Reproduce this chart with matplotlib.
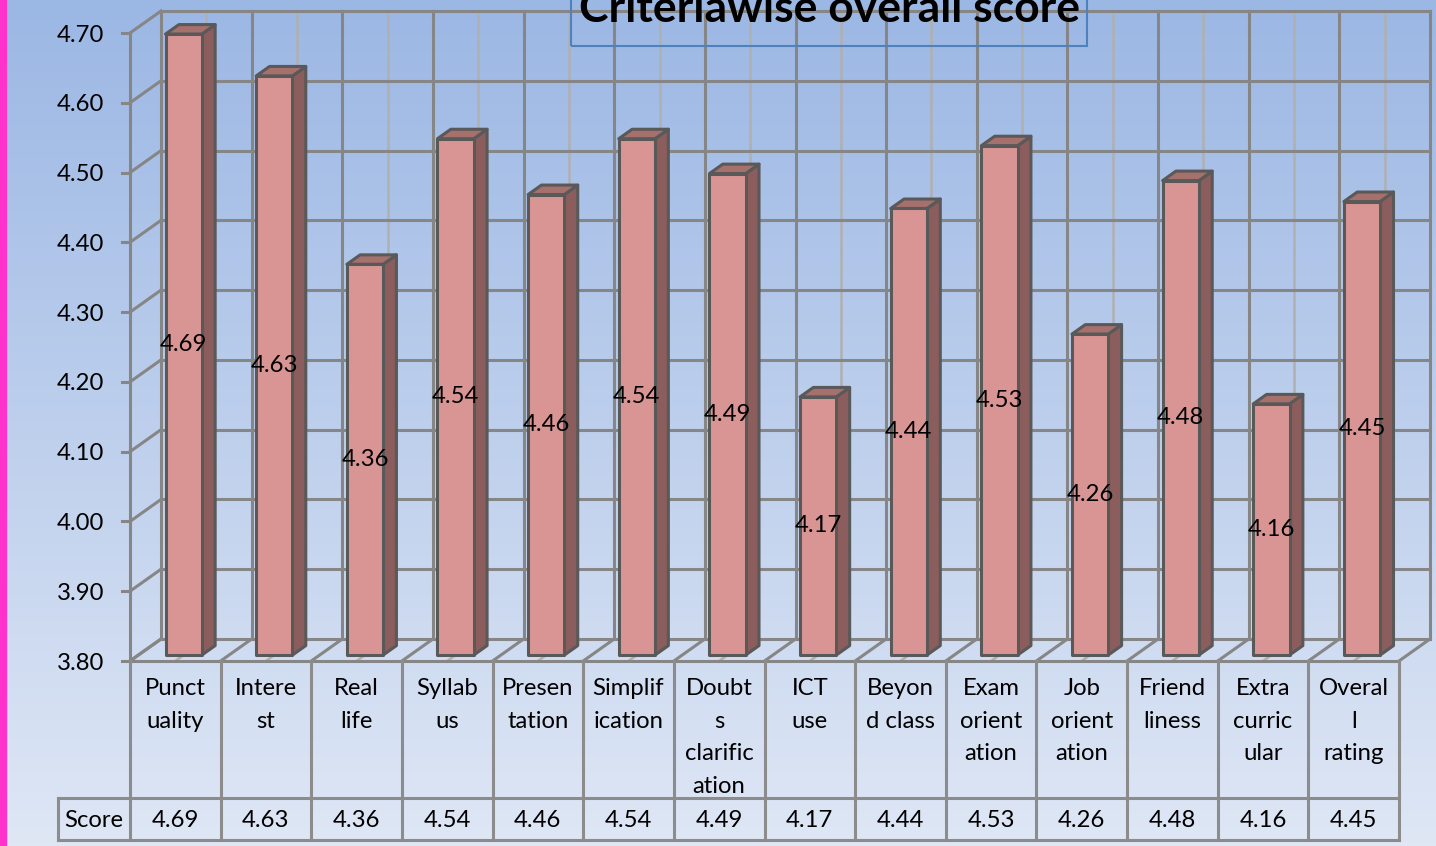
import numpy as np
import matplotlib.pyplot as plt
from matplotlib.patches import Polygon, Rectangle
from matplotlib.transforms import IdentityTransform

plt.rcParams['font.family'] = ['Lato', 'DejaVu Sans']

categories = ['Punct\nuality', 'Intere\nst', 'Real\nlife', 'Syllab\nus', 'Presen\ntation',
              'Simplif\nication', 'Doubt\ns\nclarific\nation', 'ICT\nuse', 'Beyon\nd class',
              'Exam\norient\nation', 'Job\norient\nation', 'Friend\nliness', 'Extra\ncurric\nular',
              'Overal\nl\nrating']
scores = [4.69, 4.63, 4.36, 4.54, 4.46, 4.54, 4.49, 4.17, 4.44, 4.53, 4.26, 4.48, 4.16, 4.45]
yticks = [3.80, 3.90, 4.00, 4.10, 4.20, 4.30, 4.40, 4.50, 4.60, 4.70]
row_name = 'Score'
title = 'Criteriawise overall score'

W, H = 1436, 846
FS = 17.2
fig = plt.figure(figsize=(W / 100, H / 100), dpi=100)

# background gradient
bg = fig.add_axes([0, 0, 1, 1], zorder=-5)
grad = np.linspace(0, 1, 256)[:, None]
top_c = np.array([0x9b, 0xb7, 0xe4]) / 255
bot_c = np.array([0xdf, 0xe7, 0xf5]) / 255
img = top_c[None, None, :] * (1 - grad[..., None]) + bot_c[None, None, :] * grad[..., None]
bg.imshow(np.repeat(img, 2, axis=1), aspect='auto', extent=[0, 1, 0, 1])
bg.add_patch(Rectangle((0, 0), 6 / W, 1, color='#ff33cc', transform=bg.transAxes))
bg.axis('off')

# front plane of the chart
n = len(scores)
ax = fig.add_axes([130 / W, (H - 661) / H, (1399 - 130) / W, (661 - 33) / H])
ax.set_xlim(-0.5, n - 0.5)
ax.set_ylim(yticks[0], yticks[-1])
ax.axis('off')
ax.patch.set_alpha(0)

DX, DY = 31, 22  # depth offset in pixels


def proj(x, y, d=0.0):
    px, py = ax.transData.transform((x, y))
    return (px + DX * d, py + DY * d)


grid_dark = '#868686'
grid_light = '#b0b0b0'
lw = 2.2


def seg(p, q, color=grid_dark, lw=lw, z=1):
    fig.add_artist(plt.Line2D([p[0], q[0]], [p[1], q[1]], color=color, lw=lw,
                              transform=IdentityTransform(), zorder=z))


bounds = np.arange(n + 1) - 0.5
centers = np.arange(n)
y0, y1 = yticks[0], yticks[-1]

# back wall
for c in centers:
    seg(proj(c, y0, 1), proj(c, y1, 1), grid_light, 1.8)
for t in yticks:
    seg(proj(bounds[0], t, 1), proj(bounds[-1], t, 1))
for b in bounds:
    seg(proj(b, y0, 1), proj(b, y1, 1))
# left wall
for t in yticks:
    seg(proj(bounds[0], t, 0), proj(bounds[0], t, 1))
seg(proj(bounds[0], y0, 0), proj(bounds[0], y1, 0))
for t in yticks:
    p = proj(bounds[0], t, 0)
    seg((p[0] - 8, p[1]), p)
# floor
for c in centers:
    seg(proj(c, y0, 0), proj(c, y0, 1), grid_light, 1.8)
for b in bounds:
    seg(proj(b, y0, 0), proj(b, y0, 1))
seg(proj(bounds[0], y0, 0), proj(bounds[-1], y0, 0))

# bars
d0, d1, hw = 0.27, 0.70, 0.2
edge = '#595959'
for c, v in zip(centers, scores):
    front = [proj(c - hw, y0, d0), proj(c + hw, y0, d0), proj(c + hw, v, d0), proj(c - hw, v, d0)]
    side = [proj(c + hw, y0, d0), proj(c + hw, y0, d1), proj(c + hw, v, d1), proj(c + hw, v, d0)]
    topf = [proj(c - hw, v, d0), proj(c + hw, v, d0), proj(c + hw, v, d1), proj(c - hw, v, d1)]
    for pts, col in ((side, '#8b5d5c'), (topf, '#a6706d'), (front, '#d99594')):
        fig.add_artist(Polygon(pts, closed=True, facecolor=col, edgecolor=edge, lw=2.2,
                               joinstyle='round', transform=IdentityTransform(), zorder=3))
    lx, ly = proj(c, (y0 + v) / 2, d0)
    fig.text(lx / W, ly / H, f'{v:.2f}', ha='center', va='center', fontsize=FS, zorder=4)

# y tick labels
for t in yticks:
    px, py = proj(bounds[0], t, 0)
    fig.text((px - 26) / W, (py - 2) / H, f'{t:.2f}', ha='right', va='center', fontsize=FS)

# data table
tcol = '#8c8c8c'
x_left = proj(bounds[0], y0)[0]
x_right = proj(bounds[-1], y0)[0]
row_top = H - 798
row_bot = H - 840
head_bot = H - 661
seg((58, row_top), (x_right, row_top), tcol)
seg((58, row_bot), (x_right, row_bot), tcol)
seg((58, row_top), (58, row_bot), tcol)
for b in bounds:
    bx = proj(b, y0)[0]
    seg((bx, head_bot), (bx, row_bot), tcol)
for c, lab, v in zip(centers, categories, scores):
    cx = proj(c, y0)[0]
    for i, line in enumerate(lab.split('\n')):
        fig.text(cx / W, (H - 695 - 32.5 * i) / H, line, ha='center', va='baseline', fontsize=FS)
    fig.text(cx / W, (H - 827) / H, f'{v:.2f}', ha='center', va='baseline', fontsize=FS)
fig.text(((58 + x_left) / 2) / W, (H - 827) / H, row_name, ha='center', va='baseline', fontsize=FS)

# title (cut at the top edge as in the source)
fig.add_artist(Rectangle((571 / W, (H - 46) / H), (1087 - 571) / W, 60 / H, fill=False,
                         edgecolor='#4f81bd', lw=1.5, transform=fig.transFigure, zorder=5))
fig.text(829 / W, (H - 22) / H, title, ha='center', va='baseline', fontsize=32,
         fontweight='bold', zorder=6)

fig.savefig('out.png', dpi=100)
